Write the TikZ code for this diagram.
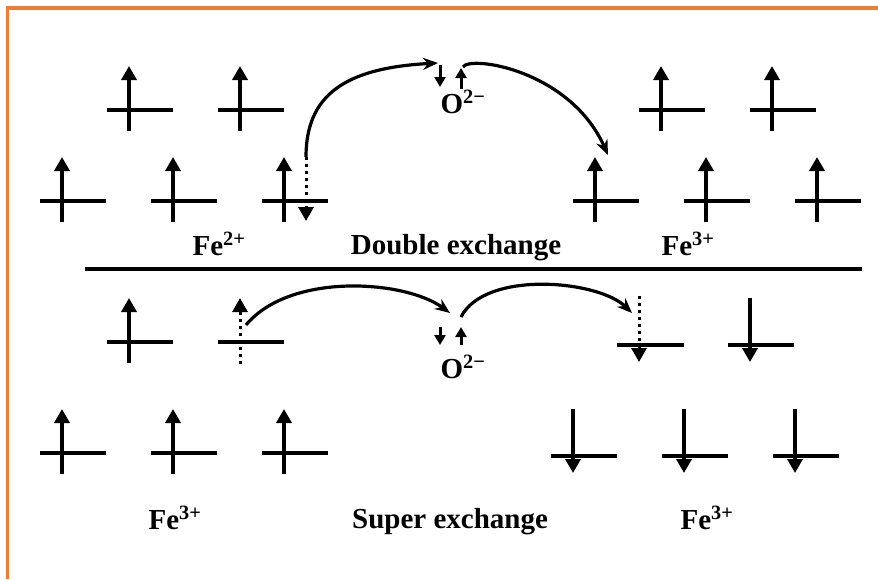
\documentclass[tikz,border=0pt]{standalone}
\usepackage{fontspec}
\setmainfont{Liberation Serif}
\usepackage{tikz}
\usetikzlibrary{arrows.meta}

\definecolor{frameorange}{RGB}{237,125,49}

\begin{document}
\begin{tikzpicture}[
    x=1pt, y=-1pt,
    frame/.style={draw=frameorange, line width=3.2pt},
    level/.style={line width=3.6pt, draw=black},
    spinup/.style={line width=3.6pt, draw=black, -{Triangle[length=14pt,width=15pt]}},
    dotspin/.style={line width=3pt, draw=black, dash pattern=on 3pt off 4pt, -{Triangle[length=14pt,width=15pt]}},
    ospin/.style={line width=3pt, draw=black, -{Triangle[length=10pt,width=11pt]}},
    hop/.style={line width=3.2pt, draw=black, -{Stealth[length=15pt,width=12pt]}},
    lbl/.style={font=\fontsize{29}{34}\selectfont\bfseries, inner sep=0pt, anchor=base}
]
\useasboundingbox (0,0) rectangle (878,579);

% frame
\draw[frame] (7.5,579) -- (7.5,8) -- (878,8);

% Double exchange (top half)
\foreach \vx/\ly in {129/110, 240/110, 62/201, 173/201, 284/201,
                     661/110, 772/110, 595/201, 706/201, 817/201} {
  \draw[level] (\vx-22,\ly) -- (\vx+44,\ly);
  \draw[spinup] (\vx,\ly+21) -- (\vx,\ly-44);
}
\coordinate (fe2src) at (306,157);
\coordinate (fe2tip) at (306,221);
\draw[dotspin] (fe2src) -- (fe2tip);

\coordinate (oxdn1a) at (440,65);
\coordinate (oxdn1b) at (440,87);
\coordinate (oxup1a) at (461,89);
\coordinate (oxup1b) at (461,68);
\draw[ospin] (oxdn1a) -- (oxdn1b);
\draw[ospin] (oxup1a) -- (oxup1b);

\coordinate (oxin1) at (438,63);
\coordinate (oxout1) at (463,67);
\coordinate (fe3dst1) at (608,155);
\draw[hop] (fe2src) .. controls (306,95) and (345,68) .. (oxin1);
\draw[hop] (oxout1) .. controls (470,55) and (570,70) .. (fe3dst1);

\node[lbl] (fe2lbl) at (219,255) {Fe\textsuperscript{2+}};
\node[lbl] (dblbl) at (456,254) {Double exchange};
\node[lbl] (fe3lbl) at (688,255) {Fe\textsuperscript{3+}};
\node[lbl] (ox1lbl) at (463,113) {O\textsuperscript{2−}};

% separator
\draw[level] (85,269) -- (862,269);

% Super exchange (bottom half)
\foreach \vx/\ly in {129/342, 62/453, 173/453, 284/453} {
  \draw[level] (\vx-22,\ly) -- (\vx+44,\ly);
  \draw[spinup] (\vx,\ly+21) -- (\vx,\ly-44);
}
\foreach \vx/\ly in {750/345, 573/456, 684/456, 795/456} {
  \draw[level] (\vx-22,\ly) -- (\vx+44,\ly);
  \draw[spinup] (\vx,\ly-47) -- (\vx,\ly+17);
}
\draw[level] (218,342) -- (284,342);
\draw[level] (617,345) -- (684,345);
\coordinate (fe3up) at (240,364);
\coordinate (fe3uptip) at (240,298);
\draw[dotspin] (fe3up) -- (fe3uptip);
\coordinate (fe3dn) at (639,296);
\coordinate (fe3dntip) at (639,362);
\draw[dotspin] (fe3dn) -- (fe3dntip);

\coordinate (oxdn2a) at (440,327);
\coordinate (oxdn2b) at (440,345);
\coordinate (oxup2a) at (461,345);
\coordinate (oxup2b) at (461,327);
\draw[ospin] (oxdn2a) -- (oxdn2b);
\draw[ospin] (oxup2a) -- (oxup2b);

\coordinate (fe3src) at (246,325);
\coordinate (oxin2) at (450,313);
\coordinate (oxout2) at (461,317);
\coordinate (fe3dst2) at (632,313);
\draw[hop] (fe3src) .. controls (290,272) and (405,280) .. (oxin2);
\draw[hop] (oxout2) .. controls (485,270) and (598,280) .. (fe3dst2);

\node[lbl] (fe3lbl2) at (175,529) {Fe\textsuperscript{3+}};
\node[lbl] (sxlbl) at (450,528) {Super exchange};
\node[lbl] (fe3lbl3) at (707,529) {Fe\textsuperscript{3+}};
\node[lbl] (ox2lbl) at (463,378) {O\textsuperscript{2−}};

\end{tikzpicture}
\end{document}
